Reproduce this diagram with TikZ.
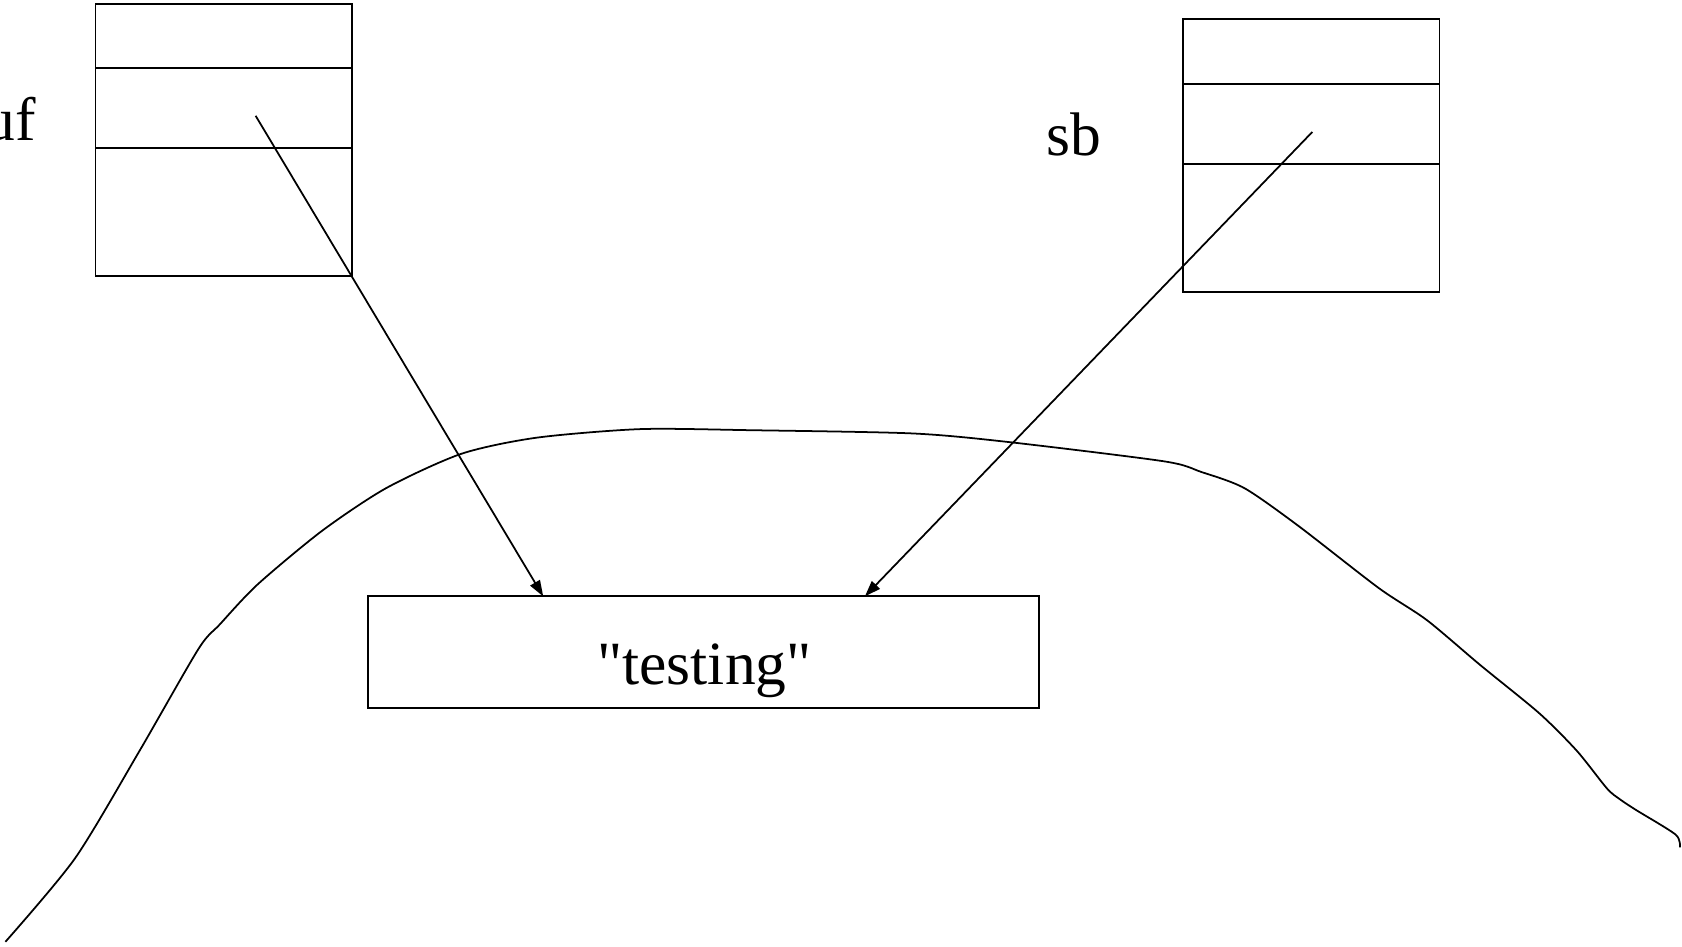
\documentclass[tikz,border=0pt]{standalone}
\usepackage{fontspec}
\setmainfont{Liberation Serif}
\usetikzlibrary{arrows.meta,positioning,calc}

\tikzset{
  cell/.style={draw,line width=0.55pt,minimum width=25.63mm,inner sep=0pt,outer sep=0pt},
  ptr/.style={line width=0.5pt,-{Triangle[length=1.6mm,width=1.1mm]}},
  lbl/.style={inner sep=0pt,font=\fontsize{17.5}{21}\selectfont}
}

\begin{document}
\begin{tikzpicture}[x=0.1mm,y=-0.1mm,line width=0.5pt]
  \useasboundingbox (0,0) rectangle (1682,946);
  \clip (0,0) rectangle (1682,946);

  % The two stack frames, three cells each.
  \node[cell,minimum height=6.33mm,anchor=north west] (buftop) at (95.5,4.3) {};
  \node[cell,minimum height=8.04mm,below=0pt of buftop] (bufmid) {};
  \node[cell,minimum height=12.77mm,below=0pt of bufmid] (bufbot) {};
  \node[lbl,anchor=base east] (buflbl) at (37,140) {buf};

  \node[cell,minimum height=6.44mm,anchor=north west] (sbtop) at (1183.2,19.3) {};
  \node[cell,minimum height=8.04mm,below=0pt of sbtop] (sbmid) {};
  \node[cell,minimum height=12.77mm,below=0pt of sbmid] (sbbot) {};
  \node[lbl,anchor=base west] (sblbl) at (1046,155) {sb};

  % The string object on the heap.
  \node[cell,minimum width=67.14mm,minimum height=11.16mm] (str) at (703.7,652.2) {};
  \node[lbl,anchor=base] (strtxt) at (704.5,684) {\textquotedbl testing\textquotedbl};

  % Heap boundary.
  \draw[line width=0.5pt] plot[smooth,tension=0.45] coordinates {
    (5.4,941.8) (75.1,858.2) (139.5,750.9) (198.4,649) (219.9,624.3)
    (257.4,584.6) (321.8,531) (386.2,488.1) (461.3,453.8) (536.4,437.7)
    (640.4,429.1) (750.9,430.2) (911.8,433.4) (1008.3,442) (1163.9,461.3)
    (1201.4,472) (1244.3,488.1) (1298,525.6) (1378.4,587.8) (1426.7,620)
    (1480.3,665.1) (1539.3,713.3) (1576.9,750.9) (1606.9,788.4)
    (1619.8,799.2) (1635.9,809.9) (1675.6,834.6) (1679.9,847.4)};

  % References into the heap.
  \draw[ptr] ([shift={(32,8)}]bufmid.center) -- ($(str.north west)!0.261!(str.north east)$);
  \draw[ptr] ([shift={(1,8)}]sbmid.center) -- ($(str.north west)!0.740!(str.north east)$);
\end{tikzpicture}
\end{document}
